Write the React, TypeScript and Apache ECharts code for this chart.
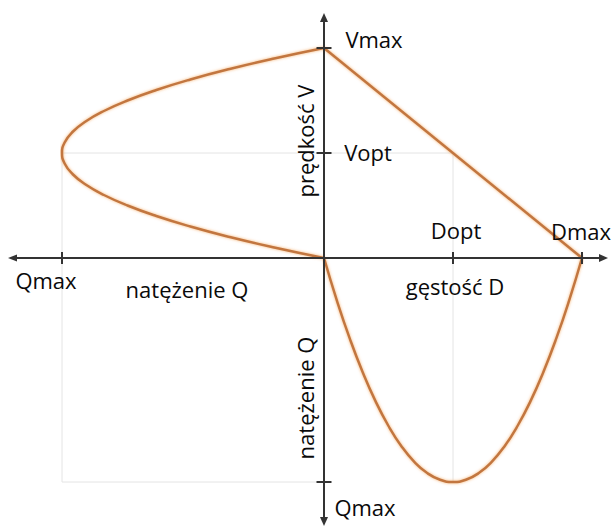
import React, { useEffect, useRef } from "react";
import * as echarts from "echarts";

// ---- data ----
const V_MAX = 100;
const V_OPT = 50;
const D_MAX = 100;
const D_OPT = 50;
const Q_MAX = 2500;

// speed–flow curve (upper left quadrant)
const speedV = [0, 5, 10, 15, 20, 25, 30, 35, 40, 45, 50, 55, 60, 65, 70, 75, 80, 85, 90, 95, 100];
const flowAtSpeed = [0, 475, 900, 1275, 1600, 1875, 2100, 2275, 2400, 2475, 2500, 2475, 2400, 2275, 2100, 1875, 1600, 1275, 900, 475, 0];

// speed–density line (upper right quadrant)
const lineDensity = [0, 100];
const lineSpeed = [100, 0];

// flow–density curve (lower right quadrant)
const densityD = [0, 5, 10, 15, 20, 25, 30, 35, 40, 45, 50, 55, 60, 65, 70, 75, 80, 85, 90, 95, 100];
const flowAtDensity = [0, 475, 900, 1275, 1600, 1875, 2100, 2275, 2400, 2475, 2500, 2475, 2400, 2275, 2100, 1875, 1600, 1275, 900, 475, 0];

const tickLabels = { vmax: "Vmax", vopt: "Vopt", dopt: "Dopt", dmax: "Dmax", qmax: "Qmax" };
const axisTitles = { flowH: "natężenie Q", density: "gęstość D", speed: "prędkość V", flowV: "natężenie Q" };

const FONT = "'Open Sans', 'Noto Sans', sans-serif";
const CURVE = "#c2763f";
const GUIDE = "#e4e4e4";
const AXIS = "#333333";
const TEXT = "#0a0a0a";

export default function App() {
  const ref = useRef<HTMLDivElement>(null);

  useEffect(() => {
    document.body.style.margin = "0";
    const chart = echarts.init(ref.current!, null, { renderer: "svg" });

    const hidden = { show: false };
    const curveStyle = {
      color: CURVE,
      width: 2.5,
      shadowColor: "rgba(245,170,100,0.9)",
      shadowBlur: 3,
    };
    const guideSeries = (xi: number, data: number[][]) => ({
      type: "line",
      xAxisIndex: xi,
      yAxisIndex: xi,
      data,
      symbol: "none",
      silent: true,
      clip: false,
      z: 1,
      lineStyle: { color: GUIDE, width: 1 },
    });
    const labelStyle = {
      show: true,
      position: "inside",
      fontFamily: FONT,
      fontSize: 22,
      color: TEXT,
      opacity: 1,
      textBorderWidth: 0,
      textBorderColor: "transparent",
    };
    const tick = (value: number[], size: number[], text: string, offset: number[]) => ({
      value,
      symbolSize: size,
      label: { ...labelStyle, formatter: text, offset },
    });
    const tickSeries = (xi: number, data: any[]) => ({
      type: "scatter",
      xAxisIndex: xi,
      yAxisIndex: xi,
      symbol: "rect",
      clip: false,
      silent: true,
      z: 6,
      itemStyle: { color: AXIS, opacity: 1 },
      data,
    });
    const curveSeries = (xi: number, data: number[][], smooth: boolean) => ({
      type: "line",
      xAxisIndex: xi,
      yAxisIndex: xi,
      data,
      smooth,
      symbol: "none",
      clip: false,
      z: 3,
      lineStyle: curveStyle,
    });
    const title = (text: string, x: number, y: number, rotation = 0) => ({
      type: "text",
      z: 6,
      x,
      y,
      rotation,
      style: { text, font: `22px ${FONT}`, fill: TEXT, align: "center", verticalAlign: "middle" },
    });

    chart.setOption({
      animation: false,
      backgroundColor: "#ffffff",
      grid: [
        { left: 62, top: 48, width: 262, height: 210 },
        { left: 324, top: 48, width: 258, height: 210 },
        { left: 62, top: 258, width: 262, height: 224 },
        { left: 324, top: 258, width: 258, height: 224 },
      ],
      xAxis: [
        { gridIndex: 0, type: "value", min: 0, max: Q_MAX, inverse: true, ...hidden },
        { gridIndex: 1, type: "value", min: 0, max: D_MAX, ...hidden },
        { gridIndex: 2, type: "value", min: 0, max: Q_MAX, inverse: true, ...hidden },
        { gridIndex: 3, type: "value", min: 0, max: D_MAX, ...hidden },
      ],
      yAxis: [
        { gridIndex: 0, type: "value", min: 0, max: V_MAX, ...hidden },
        { gridIndex: 1, type: "value", min: 0, max: V_MAX, ...hidden },
        { gridIndex: 2, type: "value", min: 0, max: Q_MAX, inverse: true, ...hidden },
        { gridIndex: 3, type: "value", min: 0, max: Q_MAX, inverse: true, ...hidden },
      ],
      series: [
        guideSeries(0, [[Q_MAX, 0], [Q_MAX, V_OPT], [0, V_OPT]]),
        guideSeries(1, [[0, V_OPT], [D_OPT, V_OPT], [D_OPT, 0]]),
        guideSeries(2, [[0, Q_MAX], [Q_MAX, Q_MAX], [Q_MAX, 0]]),
        guideSeries(3, [[D_OPT, 0], [D_OPT, Q_MAX]]),
        curveSeries(0, speedV.map((v, i) => [flowAtSpeed[i], v]), true),
        curveSeries(1, lineDensity.map((d, i) => [d, lineSpeed[i]]), false),
        curveSeries(3, densityD.map((d, i) => [d, flowAtDensity[i]]), true),
        tickSeries(1, [
          tick([0, V_MAX], [15, 2], tickLabels.vmax, [50, -9]),
          tick([0, V_OPT], [15, 2], tickLabels.vopt, [44, -1]),
          tick([D_OPT, 0], [2, 12], tickLabels.dopt, [3, -28]),
          tick([D_MAX, 0], [2, 12], tickLabels.dmax, [-1, -27]),
        ]),
        tickSeries(0, [tick([Q_MAX, 0], [2, 12], tickLabels.qmax, [-16, 22])]),
        tickSeries(3, [tick([0, Q_MAX], [15, 2], tickLabels.qmax, [41, 25])]),
      ],
      graphic: [
        { type: "line", z: 5, shape: { x1: 14, y1: 258, x2: 602, y2: 258 }, style: { stroke: AXIS, lineWidth: 2 } },
        { type: "line", z: 5, shape: { x1: 324, y1: 18, x2: 324, y2: 522 }, style: { stroke: AXIS, lineWidth: 2 } },
        { type: "polygon", z: 5, shape: { points: [[608, 258], [599, 254], [599, 262]] }, style: { fill: AXIS } },
        { type: "polygon", z: 5, shape: { points: [[8, 258], [17, 254.5], [17, 261.5]] }, style: { fill: AXIS } },
        { type: "polygon", z: 5, shape: { points: [[324, 13], [320, 22], [328, 22]] }, style: { fill: AXIS } },
        { type: "polygon", z: 5, shape: { points: [[324, 526], [320, 517], [328, 517]] }, style: { fill: AXIS } },
        title(axisTitles.flowH, 187, 289),
        title(axisTitles.density, 455, 286),
        title(axisTitles.speed, 305, 141, Math.PI / 2),
        title(axisTitles.flowV, 305, 398, Math.PI / 2),
      ],
    });

    return () => chart.dispose();
  }, []);

  return (
    <div
      ref={ref}
      style={{ position: "absolute", left: 0, top: 0, width: 611, height: 526, background: "#fff" }}
    />
  );
}
